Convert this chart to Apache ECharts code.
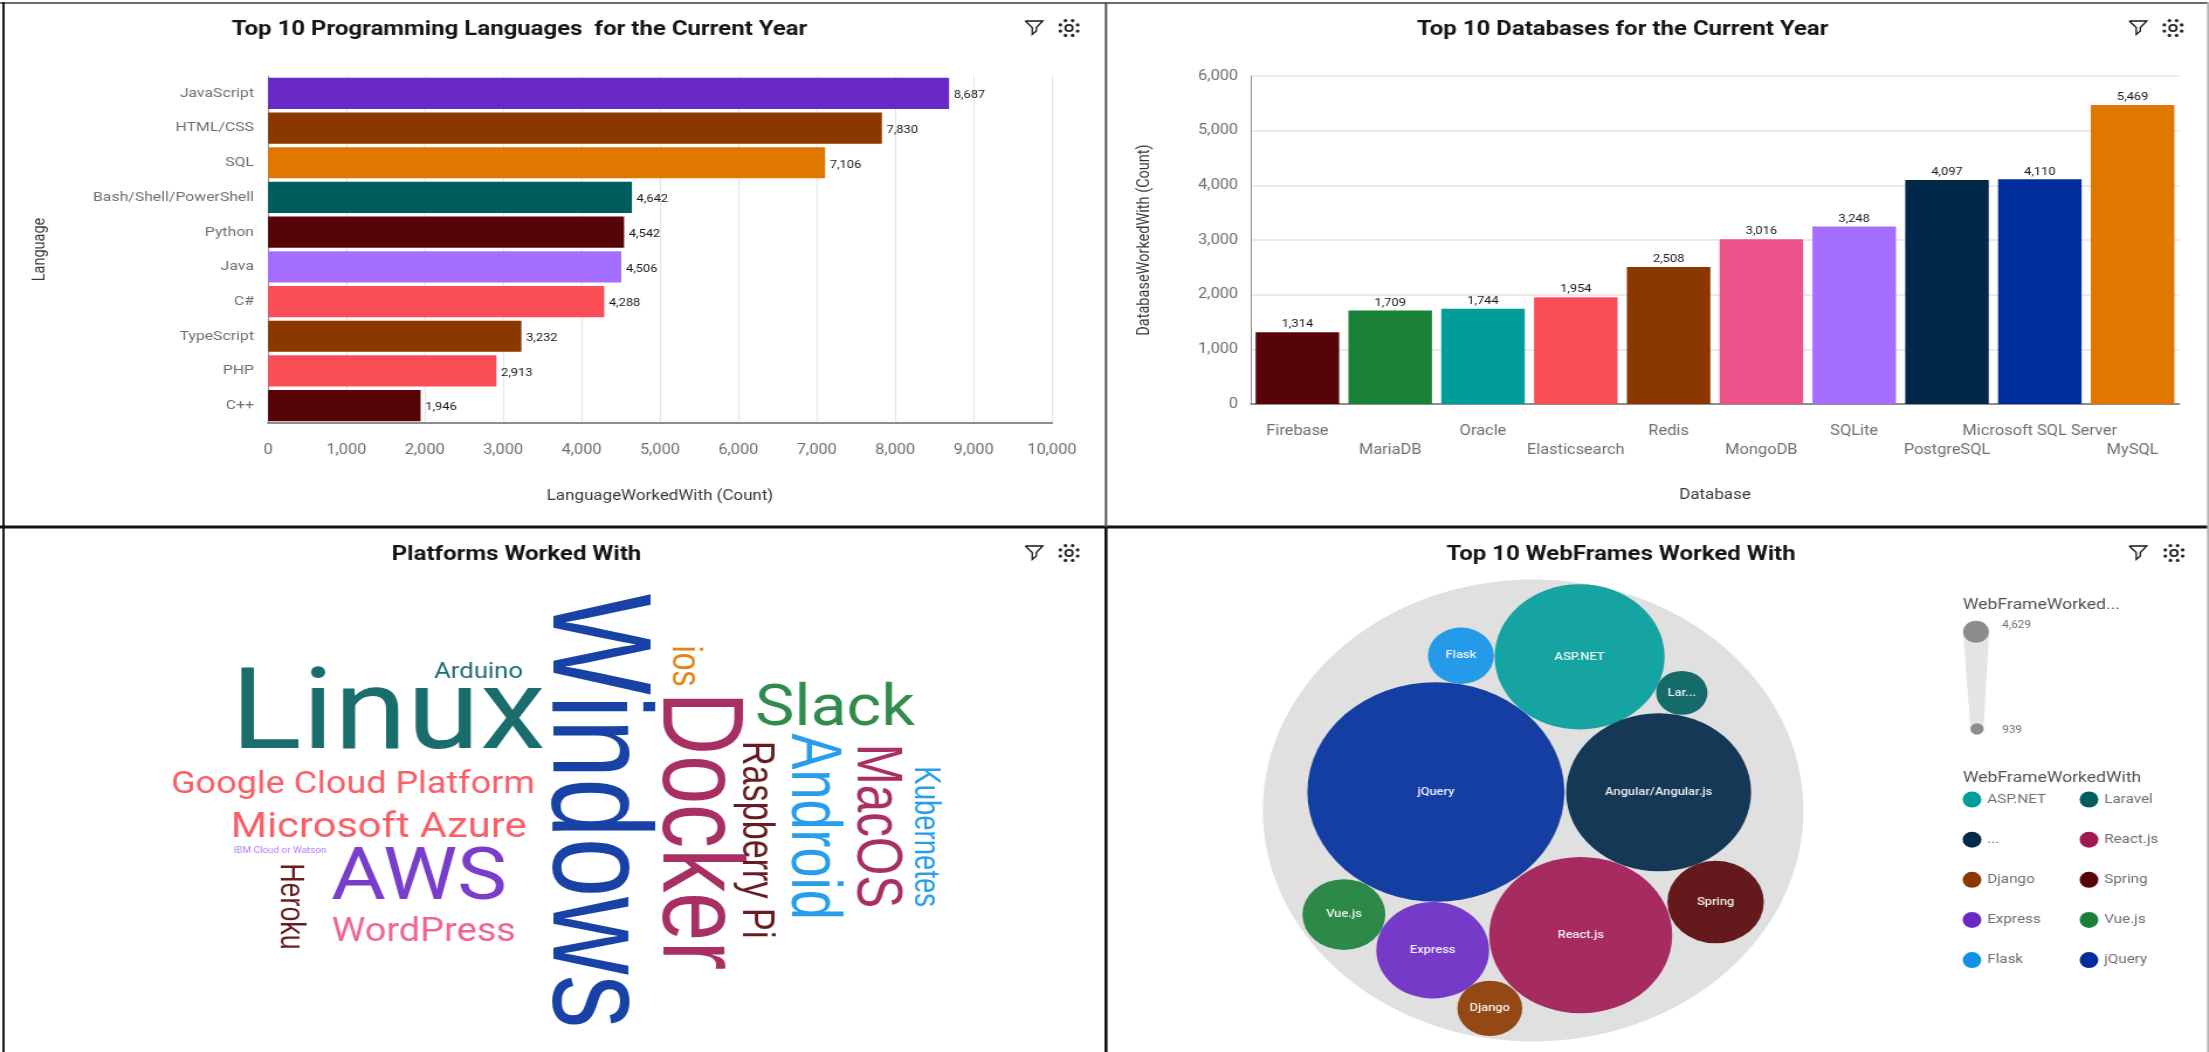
<!DOCTYPE html>
<html>
<head>
<meta charset="utf-8">
<title>Dashboard</title>
<script src="https://cdn.jsdelivr.net/npm/echarts@6/dist/echarts.min.js"></script>
<style>
html,body{margin:0;padding:0;background:#fff;overflow:hidden;width:2209px;height:1052px}
#wrap{width:2209px;height:1052px;overflow:hidden}
#main{height:1052px;transform-origin:0 0}
</style>
</head>
<body>
<div id="wrap"><div id="main"></div></div>
<script>
// ---------- data ----------
const languages = ['JavaScript','HTML/CSS','SQL','Bash/Shell/PowerShell','Python','Java','C#','TypeScript','PHP','C++'];
const languageCounts = [8687,7830,7106,4642,4542,4506,4288,3232,2913,1946];
const databases = ['Firebase','MariaDB','Oracle','Elasticsearch','Redis','MongoDB','SQLite','PostgreSQL','Microsoft SQL Server','MySQL'];
const databaseCounts = [1314,1709,1744,1954,2508,3016,3248,4097,4110,5469];
const platforms = ['Windows','Linux','Docker','AWS','Slack','Android','MacOS','Raspberry Pi','Microsoft Azure','WordPress','iOS','Google Cloud Platform','Heroku','Kubernetes','Arduino','IBM Cloud or Watson'];
const platformCounts = [5950,6280,4890,3980,3150,3000,2740,1900,1975,1800,1780,1710,1490,1530,1220,470];
const webFrames = ['ASP.NET','Angular/Angular.js','Django','Express','Flask','Laravel','React.js','Spring','Vue.js','jQuery'];
const webFrameCounts = [2467,2777,1030,1526,1039,939,2735,1327,1186,4629];

// ---------- style and placement ----------
const S = 1.17;                     // the picture is stretched horizontally by this factor
const W = 2209 / S, H = 1052;
const px = x => x / S;
const FONT = 'Roboto';
const languageColors = ['#6929c4','#8a3800','#e07700','#005d5d','#570408','#a56eff','#fa4d56','#8a3800','#fa4d56','#570408'];
const databaseColors = ['#570408','#198038','#009d9a','#fa4d56','#8a3800','#ee538b','#a56eff','#012749','#002d9c','#e07700'];
const platformColors = ['#002d9c','#005d5d','#9f1853','#6929c4','#198038','#1192e8','#9f1853','#570408','#fa4d56','#ee538b','#e07700','#fa4d56','#570408','#1192e8','#005d5d','#a56eff'];
const platformPlacement = [ // centre x, centre y (page px), rotation in degrees
  [600.5,811,-90],[388,712.6,0],[702,831,-90],[419,877,0],[835,707.6,0],[815.5,826.6,-90],[879.3,826,-90],
  [758.5,839.7,-90],[378.6,825.9,0],[423.7,931,0],[686.5,666,-90],[353,783.3,0],[292.5,906.4,-90],[926.5,836.7,-90],[478.5,670.7,0],[280,850.6,0]
];
const webFrameColors = ['#009d9a','#012749','#8a3800','#6929c4','#1192e8','#005d5d','#9f1853','#570408','#198038','#002d9c'];
const webFramePlacement = [ // centre x, centre y (page px)
  [1579.6,656.8],[1658.6,792.2],[1489.8,1008.4],[1432.7,950.3],[1460.9,655.7],[1681.8,692.9],[1580.7,935.1],[1715.6,902.1],[1343.9,914.6],[1435.9,792]
];
const bubbleDiameter = v => Math.sqrt(17.18 * v - 13490) / S;
const fontForCount = v => v * 0.018;
const fmt = n => n.toLocaleString('en-US');

const titles = [
  ['Top 10 Programming Languages  for the Current Year',519.5,30],
  ['Top 10 Databases for the Current Year',1622.7,30],
  ['Platforms Worked With',516.5,555],
  ['Top 10 WebFrames Worked With',1621,555]
];
const TICK = '#6f6f6f', NAME = '#393939', GRID = '#e4e4e4', GRID2 = '#ebebeb', AXIS = '#8d8d8d';

// ---------- decorations ----------
function icons(fx, gx, cy) {
  const out = [];
  out.push({type:'polyline',x:px(fx),y:cy,z:50,shape:{points:[[-7.5,-7],[7.5,-7],[2,-0.5],[2,3],[-1.5,6.5],[-1.5,-0.5],[-7.5,-7]]},style:{stroke:'#161616',fill:'none',lineWidth:1.3}});
  out.push({type:'ring',x:px(gx),y:cy,z:50,shape:{r:4,r0:2.2},style:{fill:'#262626'}});
  for (let i = 0; i < 8; i++) {
    const a = i * Math.PI / 4 + Math.PI / 8;
    out.push({type:'circle',x:px(gx) + Math.cos(a) * 8,y:cy + Math.sin(a) * 8,z:50,shape:{r:1.6},style:{fill:'#262626'}});
  }
  return out;
}
function line(x1,y1,x2,y2,color,w) {
  return {type:'line',z:60,shape:{x1:px(x1),y1:y1,x2:px(x2),y2:y2},style:{stroke:color,lineWidth:w}};
}
const graphicEls = [
  line(0,3,2209,3,'#6a6a6a',2),
  line(3.5,2,3.5,527,'#111',2.2/S),
  line(3.5,527,3.5,1052,'#111',2.2/S),
  line(0,527,2209,527,'#111',3),
  line(1106,2,1106,527,'#5a5a5a',2.4/S),
  line(1106,527,1106,1052,'#111',3/S),
  line(2208,2,2208,1052,'#b5b5b5',2/S),
  ...icons(1034,1069,28),...icons(2138,2173,28),...icons(1034,1069,553),...icons(2138,2174,553),
  // size legend
  {type:'text',x:px(1963),y:605.5,z:40,style:{text:'WebFrameWorked...',fontFamily:FONT,fontSize:15,fill:'#525252',verticalAlign:'middle'}},
  {type:'polygon',z:39,shape:{points:[[px(1963),632],[px(1989),632],[px(1983.5),729],[px(1970.5),729]]},style:{fill:GRID}},
  {type:'circle',x:px(1976),y:631.7,z:40,shape:{r:11},style:{fill:'#8d8d8d'}},
  {type:'circle',x:px(1977),y:729,z:40,shape:{r:5.7},style:{fill:'#8d8d8d'}},
  {type:'text',x:px(2002.3),y:625,z:40,style:{text:fmt(Math.max(...webFrameCounts)),fontFamily:FONT,fontSize:10,fill:TICK,verticalAlign:'middle'}},
  {type:'text',x:px(2002.3),y:730,z:40,style:{text:fmt(Math.min(...webFrameCounts)),fontFamily:FONT,fontSize:10,fill:TICK,verticalAlign:'middle'}},
  {type:'text',x:px(1963),y:777.8,z:40,style:{text:'WebFrameWorkedWith',fontFamily:FONT,fontSize:15,fill:'#525252',verticalAlign:'middle'}}
];

// ---------- chart ----------
const el = document.getElementById('main');
el.style.width = W + 'px';
el.style.transform = 'scaleX(' + S + ')';
const chart = echarts.init(el, null, {renderer:'canvas'});

const barData = (vals, cols) => vals.map((v,i) => ({value:v,itemStyle:{color:cols[i]}}));
const axisLabel = {color:TICK,fontFamily:FONT,fontSize:14};
const nameStyle = {color:NAME,fontFamily:FONT,fontSize:14.5};
const barLabel = {show:true,color:'#161616',fontFamily:FONT,fontSize:11,formatter:p => fmt(p.value)};

const bubbleSeries = webFrames.map((name,i) => ({
  type:'scatter',name,xAxisIndex:2,yAxisIndex:2,z:3,symbol:'circle',
  symbolSize:d => bubbleDiameter(d[2]),
  itemStyle:{color:webFrameColors[i],opacity:1},
  label:{show:true,position:'inside',color:'#fff',fontFamily:FONT,fontSize:11,fontWeight:500,
    formatter:p => p.seriesName === 'Laravel' ? 'Lar...' : p.seriesName},
  emphasis:{disabled:true},
  data:[{value:[px(webFramePlacement[i][0]),webFramePlacement[i][1],webFrameCounts[i]],itemStyle:{opacity:0.91}}]
}));

const legendCommon = {
  orient:'vertical',itemWidth:16,itemHeight:18.75,itemGap:24.15,icon:'circle',selectedMode:false,padding:0,
  textStyle:{color:'#6f6f6f',fontFamily:FONT,fontSize:13},
  formatter:n => n === 'Angular/Angular.js' ? '...' : n
};

chart.setOption({
  animation:false,
  backgroundColor:'#fff',
  textStyle:{fontFamily:FONT},
  title:titles.map(t => ({text:t[0],left:px(t[1]),top:t[2] - 12,padding:0,textAlign:'center',
    textStyle:{color:'#161616',fontFamily:FONT,fontSize:20.5,fontWeight:700,lineHeight:24}})),
  graphic:{elements:graphicEls},
  legend:[
    {...legendCommon,left:px(1972) - 8,top:791.5,data:webFrames.slice(0,5)},
    {...legendCommon,left:px(2089) - 8,top:791.5,data:webFrames.slice(5)}
  ],
  grid:[
    {left:px(268),top:76,width:px(784),height:347,outerBoundsMode:'none'},
    {left:px(1251),top:76,width:px(928),height:328,outerBoundsMode:'none'},
    {left:0,top:0,width:W,height:H,outerBoundsMode:'none'}
  ],
  xAxis:[
    {gridIndex:0,type:'value',min:0,max:10000,interval:1000,
      name:'LanguageWorkedWith (Count)',nameLocation:'middle',nameGap:66,nameTextStyle:nameStyle,
      axisLine:{show:true,lineStyle:{color:AXIS,width:2}},axisTick:{show:false},
      splitLine:{show:true,lineStyle:{color:GRID,width:1}},
      axisLabel:{...axisLabel,margin:20,formatter:v => fmt(v)}},
    {gridIndex:1,type:'category',data:databases,
      name:'Database',nameLocation:'middle',nameGap:84,nameTextStyle:nameStyle,
      axisLine:{show:true,lineStyle:{color:AXIS,width:2}},axisTick:{show:false},splitLine:{show:false},
      axisLabel:{...axisLabel,margin:18,interval:0,hideOverlap:false,lineHeight:19,
        formatter:(v,i) => (i % 2 ? '\n' : '') + v}},
    {gridIndex:2,type:'value',min:0,max:W,show:false}
  ],
  yAxis:[
    {gridIndex:0,type:'category',data:languages,inverse:true,
      name:'Language',nameLocation:'middle',nameGap:px(219),nameRotate:90,nameTextStyle:nameStyle,
      axisLine:{show:true,lineStyle:{color:AXIS,width:1}},axisTick:{show:false},splitLine:{show:false},
      axisLabel:{...axisLabel,fontSize:13.5,margin:12,interval:0,padding:[3,0,0,0]}},
    {gridIndex:1,type:'value',min:0,max:6000,interval:1000,
      name:'DatabaseWorkedWith (Count)',nameLocation:'middle',nameGap:px(98),nameRotate:90,nameTextStyle:nameStyle,
      axisLine:{show:true,lineStyle:{color:AXIS,width:1}},axisTick:{show:false},
      splitLine:{show:true,lineStyle:{color:GRID2,width:2}},
      axisLabel:{...axisLabel,margin:11,padding:[2,0,0,0],formatter:v => fmt(v)}},
    {gridIndex:2,type:'value',min:0,max:H,inverse:true,show:false}
  ],
  series:[
    {type:'bar',xAxisIndex:0,yAxisIndex:0,barCategoryGap:'10%',silent:true,
      label:{...barLabel,position:'right',distance:4,offset:[0,2]},data:barData(languageCounts,languageColors)},
    {type:'bar',xAxisIndex:1,yAxisIndex:1,barCategoryGap:'10%',silent:true,
      label:{...barLabel,position:'top',distance:2},data:barData(databaseCounts,databaseColors)},
    {type:'custom',xAxisIndex:2,yAxisIndex:2,z:3,silent:true,clip:false,
      encode:{x:0,y:1},
      data:platforms.map((n,i) => [px(platformPlacement[i][0]),platformPlacement[i][1],platformCounts[i]]),
      renderItem:(params,api) => {
        const i = params.dataIndex;
        const c = api.coord([api.value(0),api.value(1)]);
        const fs = fontForCount(api.value(2));
        const rot = platformPlacement[i][2];
        return {type:'text',x:c[0],y:c[1],rotation:rot * Math.PI / 180,scaleY:rot ? 1.12 : 1,
          style:{x:0,y:0.06 * fs,text:platforms[i] === 'iOS' ? 'ios' : platforms[i],fontFamily:rot ? 'Liberation Sans' : FONT,fontSize:fs,
            fill:platformColors[i],opacity:0.9,align:'center',verticalAlign:'middle'}};
      }},
    {type:'scatter',name:'WebFrames total',xAxisIndex:2,yAxisIndex:2,z:2,silent:true,symbol:'circle',symbolSize:462,
      itemStyle:{color:'#e0e0e0',opacity:1},data:[[px(1533.1),810.5]]},
    ...bubbleSeries
  ]
});
</script>
</body>
</html>
